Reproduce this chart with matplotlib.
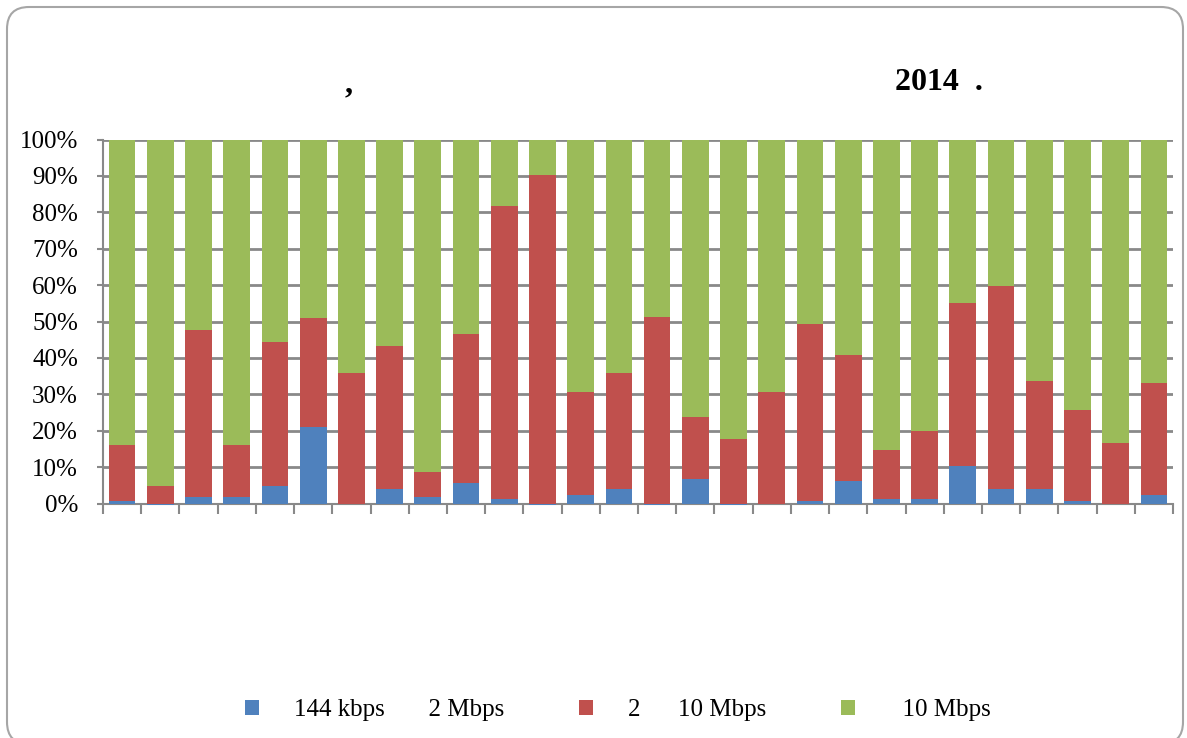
import matplotlib
matplotlib.use("Agg")
import matplotlib.pyplot as plt
import numpy as np
from matplotlib.patches import FancyBboxPatch, Patch
from matplotlib.transforms import IdentityTransform

# ---- data (percent shares per category) ----
categories = [str(i) for i in range(1, 29)]
low_share = [0.6, -0.4, 1.7, 1.7, 4.9, 21.0, 0.0, 3.9, 1.7, 5.6, 1.2, -0.4, 2.3, 3.9,
             -0.4, 6.7, -0.4, 0.0, 0.6, 6.1, 1.2, 1.2, 10.3, 3.9, 3.9, 0.6, 0.0, 2.3]
mid_top = [16.0, 4.8, 47.6, 16.0, 44.3, 50.9, 35.8, 43.2, 8.6, 46.5, 81.7, 90.2, 30.6, 35.8,
           51.2, 23.7, 17.7, 30.6, 49.3, 40.8, 14.7, 19.9, 55.0, 59.7, 33.6, 25.6, 16.6, 33.1]
mid_share = [t - max(b, 0) for t, b in zip(mid_top, low_share)]
high_share = [100 - t for t in mid_top]
series_labels = ["144 kbps       2 Mbps", "2      10 Mbps", "  10 Mbps"]
title_left = ","
title_right = "2014  ."
ytick_vals = list(range(0, 101, 10))

colors = ["#4F81BD", "#C0504D", "#9BBB59"]
grid_c = "#898989"

plt.rcParams['font.family'] = ['Liberation Serif', 'DejaVu Serif']

W, H = 1187, 738
fig = plt.figure(figsize=(W / 100, H / 100), dpi=100)
ax = fig.add_axes([103 / W, 1 - 503.5 / H, (1173 - 103) / W, (503.5 - 139.5) / H])

x = np.arange(len(categories))
bw = 0.70
b_low = ax.bar(x, low_share, bw, color=colors[0], zorder=3, clip_on=False)
low_pos = np.maximum(np.array(low_share), 0)
b_mid = ax.bar(x, mid_share, bw, bottom=low_pos, color=colors[1], zorder=3)
b_high = ax.bar(x, high_share, bw, bottom=np.array(mid_top), color=colors[2], zorder=3)

ax.set_xlim(-0.5, len(categories) - 0.5)
ax.set_ylim(0, 100)
ax.set_yticks(ytick_vals)
ax.set_yticklabels([f"{v}%" for v in ytick_vals], fontsize=18)
ax.set_xticks(np.arange(len(categories) + 1) - 0.5)
ax.set_xticklabels([])
ax.yaxis.grid(True, color=grid_c, linewidth=2, zorder=1)
ax.set_axisbelow(True)
for s in ["top", "right"]:
    ax.spines[s].set_visible(False)
for s in ["left", "bottom"]:
    ax.spines[s].set_color(grid_c)
    ax.spines[s].set_linewidth(1.5)
ax.tick_params(axis='y', length=4, width=1.5, color=grid_c, pad=14)
ax.tick_params(axis='x', length=7, width=1.5, color=grid_c, direction='out')

# title pieces
fig.text(345 / W, 1 - 85 / H, title_left, fontsize=23, fontweight='bold', ha='left', va='center')
fig.text(895 / W, 1 - 82 / H, title_right, fontsize=23, fontweight='bold', ha='left', va='center')

# legend
handles = [Patch(facecolor=c, edgecolor='none') for c in colors]
fig.legend(handles, series_labels, loc='center', bbox_to_anchor=(618 / W, 1 - 710 / H),
           ncol=3, frameon=False, fontsize=18, handlelength=0.55, handleheight=0.55,
           handletextpad=1.4, columnspacing=3.0)

# rounded border
border = FancyBboxPatch((7, -6), 1176, 738 - 7 + 6, boxstyle="round,pad=0,rounding_size=22",
                        transform=IdentityTransform(), facecolor='none',
                        edgecolor='#a6a6a6', linewidth=1.5)
fig.patches.append(border)

fig.savefig("out.png", dpi=100)
